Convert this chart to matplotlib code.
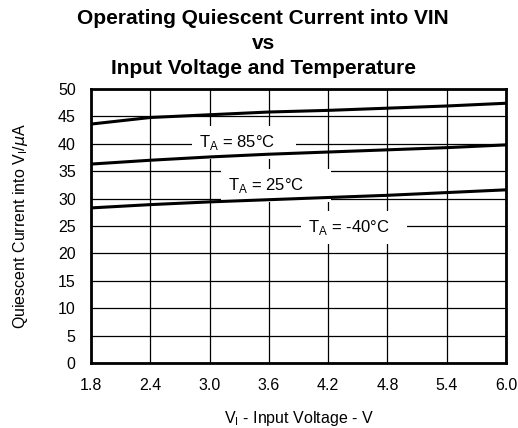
import numpy as np
import matplotlib.pyplot as plt

plt.rcParams['font.family'] = ['Liberation Sans', 'DejaVu Sans']

# tension d'entree [V]
vin = [1.8, 2.4, 3.0, 3.6, 4.2, 4.8, 5.4, 6.0]
# courant de repos [uA]
i_85 = [43.6, 44.8, 45.3, 45.8, 46.1, 46.5, 46.9, 47.4]
i_25 = [36.3, 37.0, 37.6, 38.1, 38.5, 38.9, 39.3, 39.8]
i_m40 = [28.3, 28.9, 29.4, 29.8, 30.2, 30.6, 31.1, 31.6]

labels = ['T$_\\mathregular{A}$ = 85°C    ', 'T$_\\mathregular{A}$ = 25°C     ',
          'T$_\\mathregular{A}$ = -40°C   ']
label_pos = [(2.89, 40.3), (3.19, 32.4), (4.00, 24.8)]

fig = plt.figure(figsize=(5.18, 4.28), dpi=100)
ax = fig.add_axes([91/518, 1 - 363/428, 415/518, 274/428])
ax.set_axisbelow(True)

for y in (i_85, i_25, i_m40):
    ax.plot(vin, y, 'k-', lw=2.2, zorder=4)

for txt, (x, y) in zip(labels, label_pos):
    ax.text(x, y, txt, ha='left', va='center', fontsize=12, zorder=3,
            bbox=dict(facecolor='white', edgecolor='none', pad=5))

ax.set_xlim(1.8, 6.0)
ax.set_ylim(0, 50)
ax.set_xticks(vin)
ax.set_xticklabels(['%.1f' % v for v in vin])
ax.set_yticks(np.arange(0, 51, 5))
ax.grid(True, color='k', lw=0.9)
ax.tick_params(length=0, labelsize=11.5, pad=11)
for s in ax.spines.values():
    s.set_linewidth(2)
    s.set_zorder(5)

ax.set_xlabel('V$_\\mathregular{I}$ - Input Voltage - V', fontsize=11.5, labelpad=11)
ax.set_ylabel('Quiescent Current into V$_\\mathregular{I}$/$\\mu$A', fontsize=11.5, labelpad=20)
fig.text(0.508, 1 - 9/428,
         'Operating Quiescent Current into VIN\nvs\nInput Voltage and Temperature',
         ha='center', va='top', fontsize=15, fontweight='bold', linespacing=1.4)

fig.savefig('out.png', dpi=100)
